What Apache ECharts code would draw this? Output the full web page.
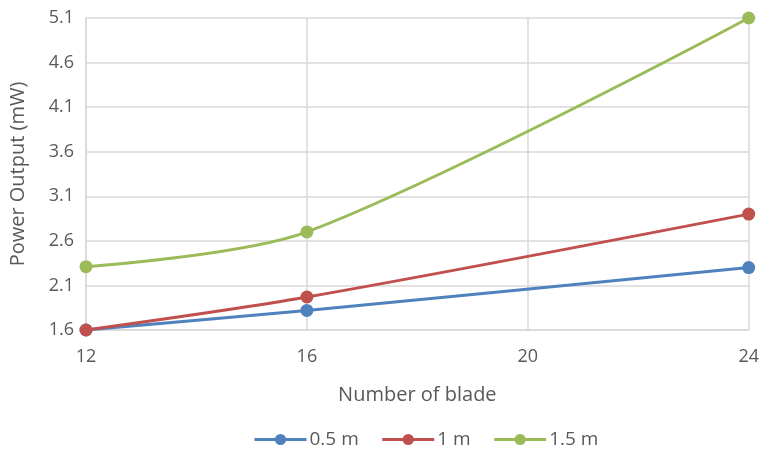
<!DOCTYPE html>
<html>
<head>
<meta charset="utf-8">
<script src="https://cdn.jsdelivr.net/npm/echarts@6/dist/echarts.min.js"></script>
<style>
  html, body { margin: 0; padding: 0; background: #fff; }
  #chart { width: 762px; height: 449px; }
</style>
</head>
<body>
<div id="chart"></div>
<script>
// Blade counts on the x axis
const blades = [12, 16, 24];
// Power output (mW) for each wind distance
const series05 = [1.6, 1.82, 2.30];
const series10 = [1.6, 1.97, 2.90];
const series15 = [2.31, 2.70, 5.10];
const seriesNames = ['0.5 m', '1 m', '1.5 m'];
const colors = ['#4f81bd', '#c0504d', '#9bbb59'];

const font = "'Open Sans', 'Liberation Sans', sans-serif";
const textColor = '#595959';

function pairs(vals) {
  return blades.map((b, i) => [b, vals[i]]);
}

const chart = echarts.init(document.getElementById('chart'));
chart.setOption({
  animation: false,
  grid: { left: 86, right: 13, top: 18, bottom: 119 },
  legend: {
    top: 425,
    left: 248,
    itemWidth: 52,
    itemHeight: 14,
    itemGap: 22,
    lineStyle: { width: 3 },
    textStyle: { color: textColor, fontSize: 19, fontFamily: font, padding: [0, 0, 0, -2] },
    data: seriesNames
  },
  xAxis: {
    type: 'value',
    min: 12, max: 24, interval: 4,
    name: 'Number of blade',
    nameLocation: 'middle',
    nameGap: 55,
    nameTextStyle: { color: textColor, fontSize: 20, fontFamily: font },
    axisLine: { lineStyle: { color: '#d9d9d9', width: 1.5 } },
    axisTick: { show: false },
    axisLabel: { color: textColor, fontSize: 18, fontFamily: font, margin: 18 },
    splitLine: { show: true, lineStyle: { color: '#d9d9d9', width: 1.5 } }
  },
  yAxis: {
    type: 'value',
    min: 1.6, max: 5.1, interval: 0.5,
    name: 'Power Output (mW)',
    nameLocation: 'middle',
    nameGap: 58,
    nameTextStyle: { color: textColor, fontSize: 20, fontFamily: font },
    axisLine: { show: true, lineStyle: { color: '#d9d9d9', width: 1.5 } },
    axisTick: { show: false },
    axisLabel: {
      color: textColor, fontSize: 18, fontFamily: font, margin: 12,
      formatter: v => v.toFixed(1)
    },
    splitLine: { show: true, lineStyle: { color: '#d9d9d9', width: 1.5 } }
  },
  series: [series05, series10, series15].map((vals, i) => ({
    name: seriesNames[i],
    type: 'line',
    smooth: 0.3,
    data: pairs(vals),
    symbol: 'circle',
    symbolSize: 13,
    lineStyle: { color: colors[i], width: 3 },
    itemStyle: { color: colors[i] },
    z: 2 + i
  }))
});
</script>
</body>
</html>
